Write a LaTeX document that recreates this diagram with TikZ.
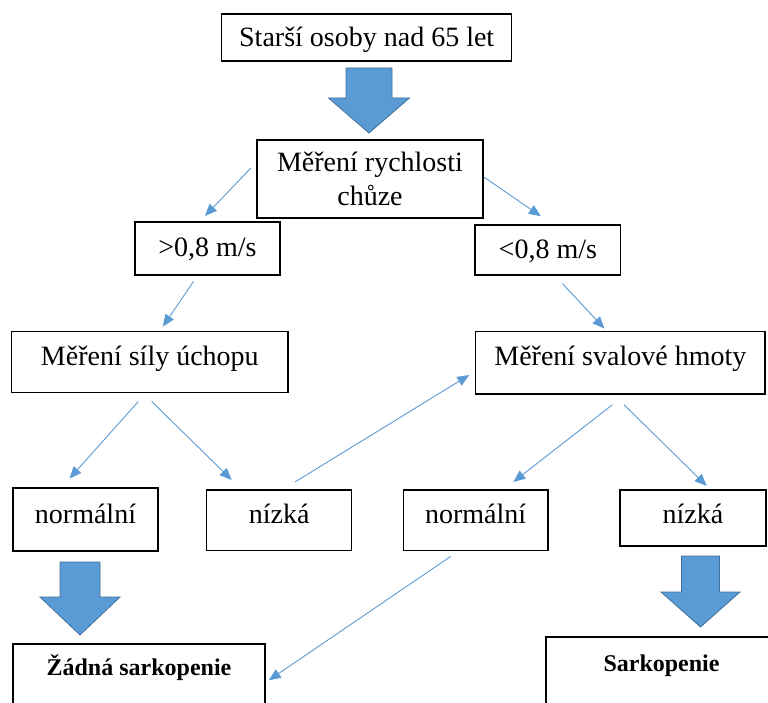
\documentclass[tikz,border=0pt]{standalone}
\usepackage{fontspec}
\setmainfont{Liberation Serif}
\usetikzlibrary{arrows.meta,calc}
\definecolor{arrowblue}{RGB}{91,155,213}
\definecolor{arrowedge}{RGB}{65,113,156}
\begin{document}
\begin{tikzpicture}[x=1pt,y=-1pt,
  box/.style={draw=black,line width=1.5pt,rectangle,inner sep=0pt,font=\fontsize{28}{34}\selectfont},
  onebox/.style={box,text height=19pt},
  endbox/.style={draw=black,line width=1.5pt,rectangle,inner sep=0pt,font=\fontsize{24}{28}\selectfont\bfseries,text height=16pt},
  conn/.style={draw=arrowblue,line width=0.9pt,-{Triangle[length=12pt,width=10pt]}},
  blockarrow/.style={fill=arrowblue,draw=arrowedge,line width=0.8pt,line join=miter}]
\useasboundingbox (0,0) rectangle (768,703);
\clip (0,0) rectangle (768,703);
\fill[white] (0,0) rectangle (768,703);

% boxes
\node[onebox,minimum width=290pt,minimum height=47pt,text depth=0.6pt] (b1) at (366.7,37.5) {Starší osoby nad 65 let};
\node[box,minimum width=226pt,minimum height=78pt,align=center] (b2) at (370,179) {Měření rychlosti\\chůze};
\node[onebox,minimum width=145pt,minimum height=53pt,text depth=2.6pt] (b3) at (207.5,248.5) {>0,8 m/s};
\node[onebox,minimum width=145.7pt,minimum height=50pt,text depth=2.4pt] (b4) at (547.85,250) {<0,8 m/s};
\node[onebox,minimum width=276.3pt,minimum height=61pt,text depth=13.4pt] (b5) at (149.85,362.2) {Měření síly úchopu};
\node[onebox,minimum width=289.3pt,minimum height=62.3pt,text depth=14.7pt] (b6) at (620.35,362.85) {Měření svalové hmoty};
\node[onebox,minimum width=145pt,minimum height=63pt,text depth=12pt] (n1) at (85.5,519.5) {normální};
\node[onebox,minimum width=145pt,minimum height=60.7pt,text depth=13.1pt] (l1) at (279.2,520.35) {nízká};
\node[onebox,minimum width=144.7pt,minimum height=60.7pt,text depth=13.7pt] (n2) at (475.65,520.35) {normální};
\node[onebox,minimum width=146pt,minimum height=56pt,text depth=9pt] (l2) at (693,518) {nízká};
\node[endbox,minimum width=252pt,minimum height=80pt,text depth=34pt] (z) at (139,684) {Žádná sarkopenie};
\node[endbox,minimum width=231pt,minimum height=87pt,text depth=35pt] (s) at (661.5,680.5) {Sarkopenie};

% block arrows
\draw[blockarrow] (346,68) -- (392,68) -- (392,98) -- (409.5,98) -- (369,133) -- (328.5,98) -- (346,98) -- cycle;
\draw[blockarrow] (60,562) -- (100,562) -- (100,597) -- (120,597) -- (80,635) -- (40,597) -- (60,597) -- cycle;
\draw[blockarrow] (681.5,556) -- (719.5,556) -- (719.5,592) -- (740,592) -- (700.5,627) -- (661,592) -- (681.5,592) -- cycle;

% connectors
\draw[conn] ([shift={(-5.3,-11)}]b2.west) -- ([shift={(-2.5,-5.3)}]b3.north);
\draw[conn] ([shift={(0,-2)}]b2.east) -- ([shift={(-7,-8)}]b4.north);
\draw[conn] ([shift={(-14,5.7)}]b3.south) -- ([shift={(13,-4.4)}]b5.north);
\draw[conn] ([shift={(14.5,7.7)}]b4.south) -- ([shift={(-16,-2.4)}]b6.north);
\draw[conn] ([shift={(-11.5,8)}]b5.south) -- ([shift={(-16,-8.7)}]n1.north);
\draw[conn] ([shift={(1.9,8)}]b5.south) -- ([shift={(-47.5,-9.3)}]l1.north);
\draw[conn] ([shift={(15.8,-7.3)}]l1.north) -- ([shift={(-5.7,12.15)}]b6.west);
\draw[conn] ([shift={(-8,10)}]b6.south) -- ([shift={(37.7,-7.3)}]n2.north);
\draw[conn] ([shift={(3.7,10)}]b6.south) -- ([shift={(13.7,-3.3)}]l2.north);
\draw[conn] ([shift={(-25,5)}]n2.south) -- ([shift={(3,37)}]z.north east);
\end{tikzpicture}
\end{document}
